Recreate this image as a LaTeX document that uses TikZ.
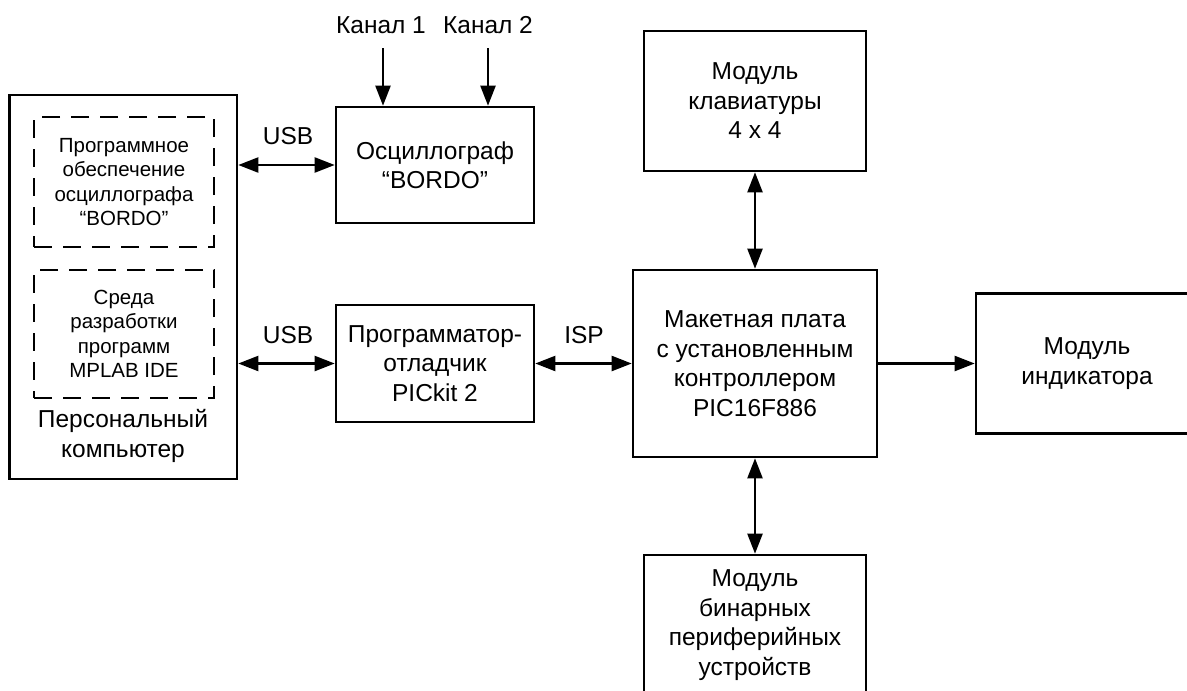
\documentclass[tikz,border=0pt]{standalone}
\usepackage{fontspec}
\setmainfont{Liberation Sans}
\usetikzlibrary{arrows.meta}
\newcommand\bigtxt{\fontsize{24.5pt}{29.5pt}\selectfont}
\newcommand\smalltxt{\fontsize{20.5pt}{24.5pt}\selectfont}
\begin{document}
\begin{tikzpicture}[x=1pt,y=-1pt,
  blk/.style={draw, line width=2.6pt, inner sep=0, align=center, font=\bigtxt},
  dblk/.style={draw, line width=2.2pt, dash pattern=on 18pt off 11pt, inner sep=0, align=center, font=\smalltxt},
  lbl/.style={inner sep=0, font=\bigtxt},
  oneway/.style={line width=2.2pt, -{Triangle[length=20pt,width=15pt]}},
  twoway/.style={line width=2.2pt, {Triangle[length=20pt,width=15pt]}-{Triangle[length=20pt,width=15pt]}}]
\useasboundingbox (0,0) rectangle (1187,691);
% personal computer with its two programs
\node[blk, minimum width=227.5pt, minimum height=384pt] (pc) at (123.25,287) {};
\node[dblk, minimum width=180pt, minimum height=130pt] (soft) at (124,182) {Программное\\обеспечение\\осциллографа\\“BORDO”};
\node[dblk, minimum width=180pt, minimum height=128pt] (ide) at (124,334) {Среда\\разработки\\программ\\MPLAB IDE};
\node[lbl, align=center] (pcname) at (123,436) {Персональный\\компьютер};
% oscilloscope and programmer
\node[blk, minimum width=198pt, minimum height=116pt] (osc) at (435,165) {Осциллограф\\“BORDO”};
\node[blk, minimum width=198pt, minimum height=117pt] (prog) at (435,363.5) {Программатор-\\отладчик\\PICkit 2};
% board and modules
\node[blk, minimum width=244pt, minimum height=187pt] (board) at (755,363.5) {Макетная плата\\с установленным\\контроллером\\PIC16F886};
\node[blk, minimum width=222pt, minimum height=140pt] (kbd) at (755,101) {Модуль\\клавиатуры\\4 x 4};
\node[blk, minimum width=222pt, minimum height=140pt] (ind) at (1087,363.5) {Модуль\\индикатора};
\node[blk, minimum width=222pt, minimum height=140pt] (bin) at (755,625) {Модуль\\бинарных\\периферийных\\устройств};
% labels
\node[lbl] (ch1) at (381,25) {Канал 1};
\node[lbl] (ch2) at (488,25) {Канал 2};
\node[lbl] (usbA) at (288,136) {USB};
\node[lbl] (usbB) at (288,335) {USB};
\node[lbl] (isp) at (584,335) {ISP};
\coordinate (in1) at (383,48);
\coordinate (in2) at (488,48);
% connections
\draw[oneway] (in1) -- (in1 |- osc.north);
\draw[oneway] (in2) -- (in2 |- osc.north);
\draw[twoway] (pc.east |- osc.west) -- (osc.west);
\draw[twoway] (pc.east |- prog.west) -- (prog.west);
\draw[twoway] (prog.east) -- (prog.east -| board.west);
\draw[oneway] (board.east) -- (board.east -| ind.west);
\draw[twoway] (kbd.south) -- (board.north);
\draw[twoway] (board.south) -- (bin.north);
\end{tikzpicture}
\end{document}
